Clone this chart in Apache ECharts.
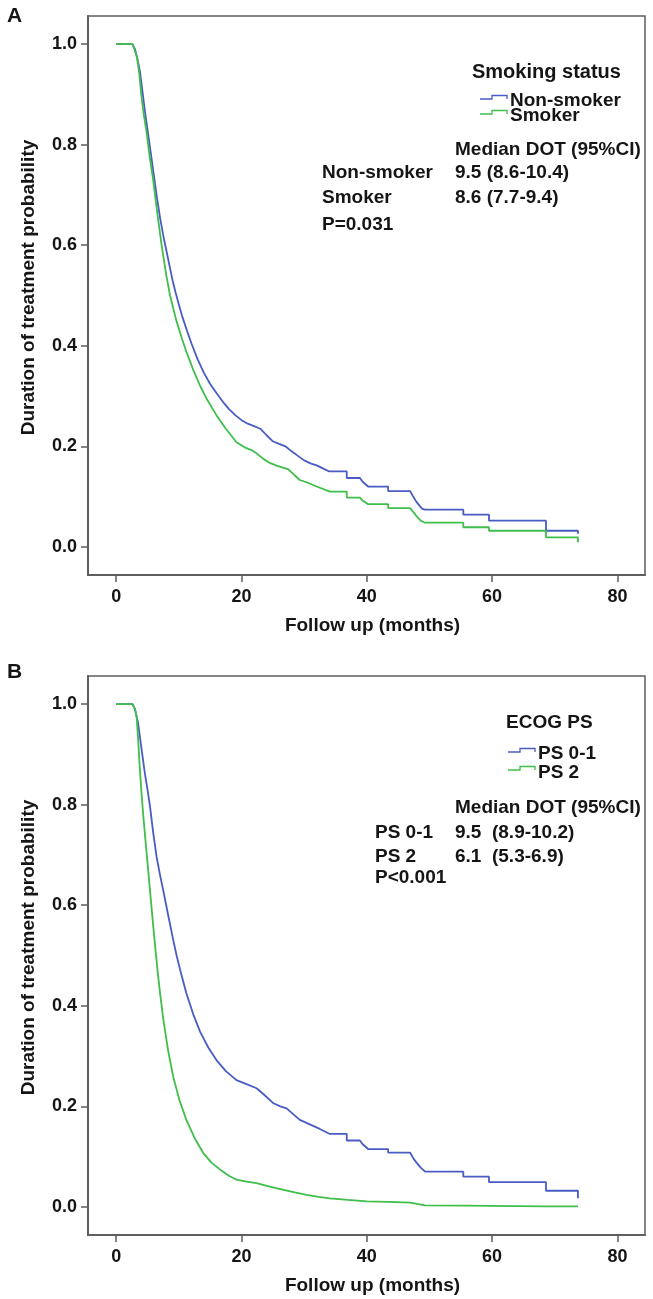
<!DOCTYPE html>
<html>
<head>
<meta charset="utf-8">
<script src="https://cdn.jsdelivr.net/npm/echarts@6/dist/echarts.min.js"></script>
<style>
html,body{margin:0;padding:0;background:#fff;}
#chart{width:653px;height:1299px;}
</style>
</head>
<body>
<div id="chart"></div>
<script>
// ---------- data ----------
const xTicks = [0, 20, 40, 60, 80];
const yTicks = [0, 0.2, 0.4, 0.6, 0.8, 1.0];

// Panel A: Smoking status (Kaplan-Meier points; step corners in the sparse tail)
const nonSmoker = [[0,1],[2.6,1],[3.0,0.99],[3.4,0.97],[3.8,0.945],[4.2,0.905],[4.6,0.865],[5.0,0.83],[5.5,0.785],[6.0,0.74],[6.5,0.695],[7.0,0.655],[7.5,0.62],[8.0,0.59],[8.5,0.56],[9.0,0.53],[9.5,0.505],[10.0,0.482],[10.5,0.46],[11.3,0.43],[12.0,0.405],[13.0,0.373],[14.0,0.346],[15.0,0.324],[16.0,0.306],[17.0,0.289],[18.0,0.274],[19.0,0.262],[20.0,0.252],[21.0,0.245],[22.0,0.24],[23.0,0.235],[24.0,0.222],[25.0,0.21],[26.0,0.205],[27.0,0.2],[28.0,0.19],[29.0,0.181],[30.0,0.172],[31.0,0.166],[32.0,0.162],[33.0,0.156],[34.0,0.15],[36.8,0.15],[36.8,0.137],[38.9,0.137],[39.3,0.13],[40.2,0.12],[43.4,0.12],[43.4,0.111],[46.9,0.111],[47.4,0.1],[47.9,0.09],[48.4,0.082],[48.8,0.076],[49.3,0.074],[55.4,0.074],[55.4,0.064],[59.5,0.064],[59.5,0.052],[68.6,0.052],[68.6,0.032],[73.7,0.032],[73.7,0.026]];
const smoker = [[0,1],[2.6,1],[2.9,0.99],[3.3,0.975],[3.7,0.94],[4.0,0.9],[4.4,0.86],[4.85,0.825],[5.3,0.78],[5.9,0.73],[6.5,0.67],[7.25,0.6],[8.0,0.54],[8.6,0.5],[9.6,0.45],[10.5,0.414],[11.2,0.388],[12.3,0.352],[13.4,0.32],[14.5,0.293],[16.0,0.262],[17.5,0.235],[19.2,0.208],[20.5,0.198],[21.5,0.193],[22.4,0.186],[23.5,0.175],[24.5,0.167],[25.5,0.162],[26.5,0.158],[27.5,0.154],[28.5,0.142],[29.3,0.133],[30.5,0.128],[32.0,0.12],[34.1,0.11],[36.8,0.11],[36.8,0.098],[38.9,0.098],[39.3,0.092],[40.2,0.085],[43.4,0.085],[43.4,0.077],[46.9,0.077],[47.5,0.068],[48.0,0.06],[48.6,0.052],[49.3,0.048],[55.4,0.048],[55.4,0.039],[59.5,0.039],[59.5,0.032],[68.6,0.032],[68.6,0.019],[73.7,0.019],[73.7,0.009]];

// Panel B: ECOG PS
const ps01 = [[0,1],[2.6,1],[3.0,0.99],[3.5,0.962],[4.0,0.915],[4.58,0.862],[5.0,0.83],[5.4,0.796],[5.9,0.745],[6.45,0.696],[7.0,0.66],[7.5,0.63],[8.3,0.58],[9.1,0.531],[9.64,0.5],[10.4,0.462],[11.2,0.425],[12.3,0.383],[13.4,0.348],[14.7,0.317],[16.0,0.292],[17.5,0.27],[19.2,0.252],[20.8,0.244],[22.4,0.236],[23.7,0.222],[25.1,0.206],[26.2,0.2],[27.2,0.196],[28.2,0.185],[29.3,0.173],[30.9,0.164],[32.5,0.155],[34.1,0.145],[36.8,0.145],[36.8,0.132],[38.9,0.132],[39.3,0.125],[40.2,0.115],[43.4,0.115],[43.4,0.108],[46.9,0.108],[47.5,0.095],[48.0,0.087],[48.6,0.078],[49.3,0.07],[55.4,0.07],[55.4,0.06],[59.5,0.06],[59.5,0.049],[68.6,0.049],[68.6,0.032],[73.7,0.032],[73.7,0.017]];
const ps2 = [[0,1],[2.6,1],[3.0,0.99],[3.26,0.975],[3.5,0.93],[3.78,0.87],[4.0,0.83],[4.31,0.78],[4.7,0.725],[5.1,0.67],[5.5,0.615],[5.9,0.56],[6.2,0.52],[6.6,0.47],[7.0,0.425],[7.5,0.375],[8.3,0.31],[9.1,0.259],[10.1,0.212],[11.2,0.173],[12.5,0.137],[13.9,0.107],[15.2,0.088],[16.6,0.074],[18.0,0.062],[19.2,0.054],[20.8,0.05],[22.4,0.047],[24.5,0.04],[26.7,0.034],[28.5,0.029],[30.4,0.024],[32.3,0.02],[34.1,0.017],[37.0,0.014],[40.0,0.011],[43.4,0.01],[46.9,0.0085],[48.0,0.006],[49.3,0.003],[55.4,0.0025],[59.5,0.002],[68.6,0.001],[73.7,0.001]];

// ---------- styles ----------
const BLUE = '#4a5cc4';
const GREEN = '#3fbf4a';
const FRAME = '#5e5e5e';
const FONT = 'Liberation Sans, Arial, sans-serif';
const TXT = '#151515';

function xAxis(gi){
  return {
    type:'value', gridIndex:gi, min:-4.5, max:84.4,
    name:'Follow up (months)', nameLocation:'middle', nameGap:41,
    nameTextStyle:{fontFamily:FONT, fontWeight:'bold', fontSize:19, color:TXT, padding:[0,0,0,12]},
    axisLine:{show:true, onZero:false, lineStyle:{color:FRAME, width:2}},
    axisTick:{show:true, inside:false, length:7, customValues:xTicks, lineStyle:{color:FRAME, width:1.5}},
    axisLabel:{show:true, margin:13, customValues:xTicks, fontFamily:FONT, fontWeight:'bold', fontSize:18, color:TXT},
    splitLine:{show:false}
  };
}
function yAxis(gi){
  return {
    type:'value', gridIndex:gi, min:-0.056, max:1.056,
    name:'Duration of treatment probability', nameLocation:'middle', nameGap:50,
    nameTextStyle:{fontFamily:FONT, fontWeight:'bold', fontSize:19, color:TXT, padding:[0,0,0,16]},
    axisLine:{show:true, onZero:false, lineStyle:{color:FRAME, width:2}},
    axisTick:{show:true, inside:false, length:7, customValues:yTicks, lineStyle:{color:FRAME, width:1.5}},
    axisLabel:{show:true, margin:11, customValues:yTicks, fontFamily:FONT, fontWeight:'bold', fontSize:18, color:TXT,
      formatter:v=>v.toFixed(1)},
    splitLine:{show:false}
  };
}
function km(name, data, color, gi){
  return {
    name, type:'line', data, xAxisIndex:gi, yAxisIndex:gi,
    showSymbol:false, symbol:'none', silent:true, animation:false,
    lineStyle:{color, width:1.8}, itemStyle:{color}
  };
}
function txt(text, x, y, size){
  return {type:'text', x, y, silent:true,
    style:{text, font:'bold '+(size||19)+'px '+FONT, fill:TXT, textAlign:'left', textVerticalAlign:'middle'}};
}
function icon(x, y, color){
  return {type:'polyline', silent:true,
    shape:{points:[[x,y],[x+12,y],[x+12,y-3.5],[x+27,y-3.5],[x+27,y]]},
    style:{stroke:color, lineWidth:1.3, fill:null}};
}

const chart = echarts.init(document.getElementById('chart'), null, {renderer:'canvas'});
chart.setOption({
  animation:false,
  backgroundColor:'#fff',
  grid:[
    {left:88, top:16, width:557, height:559, show:true, borderColor:FRAME, borderWidth:1.5, backgroundColor:'transparent'},
    {left:88, top:676, width:557, height:559, show:true, borderColor:FRAME, borderWidth:1.5, backgroundColor:'transparent'}
  ],
  xAxis:[xAxis(0), xAxis(1)],
  yAxis:[yAxis(0), yAxis(1)],
  series:[
    km('Non-smoker', nonSmoker, BLUE, 0),
    km('Smoker', smoker, GREEN, 0),
    km('PS 0-1', ps01, BLUE, 1),
    km('PS 2', ps2, GREEN, 1)
  ],
  graphic:[
    txt('A', 7, 16, 21),
    txt('Smoking status', 472, 72, 20),
    icon(480, 99, BLUE), icon(480, 114, GREEN),
    txt('Non-smoker', 510, 101),
    txt('Smoker', 510, 116),
    txt('Median DOT (95%CI)', 455, 150),
    txt('Non-smoker', 322, 173),
    txt('9.5 (8.6-10.4)', 455, 173),
    txt('Smoker', 322, 198),
    txt('8.6 (7.7-9.4)', 455, 198),
    txt('P=0.031', 322, 225),

    txt('B', 7, 672, 21),
    txt('ECOG PS', 506, 723),
    icon(508, 752, BLUE), icon(508, 770, GREEN),
    txt('PS 0-1', 538, 754),
    txt('PS 2', 538, 773),
    txt('Median DOT (95%CI)', 455, 808),
    txt('PS 0-1', 375, 833),
    txt('9.5  (8.9-10.2)', 455, 833),
    txt('PS 2', 375, 857),
    txt('6.1  (5.3-6.9)', 455, 857),
    txt('P<0.001', 375, 878)
  ]
});
</script>
</body>
</html>
